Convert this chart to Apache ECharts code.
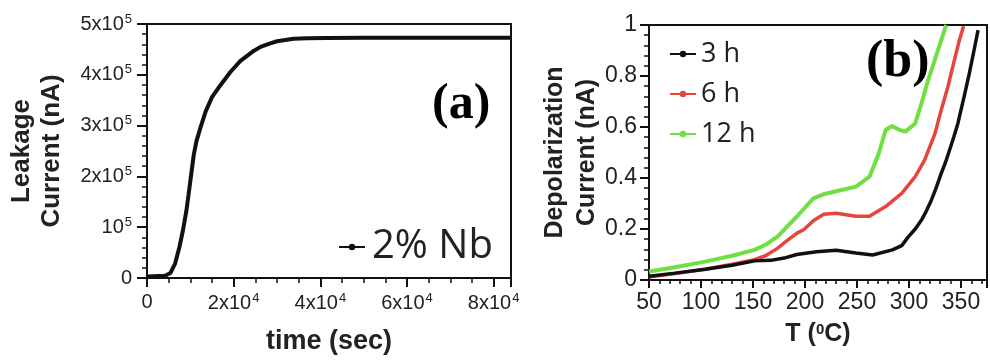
<!DOCTYPE html>
<html>
<head>
<meta charset="utf-8">
<script src="https://cdn.jsdelivr.net/npm/echarts@6/dist/echarts.min.js"></script>
<style>
html,body{margin:0;padding:0;background:#fff;}
#chart{width:990px;height:360px;}
</style>
</head>
<body>
<div id="chart"></div>
<script>
// ---- Panel (a): leakage current vs time ----
const leakTime = [0, 4200, 5400, 6500, 7500, 8300, 9100, 9600, 10200, 10800, 11400, 12300, 13500, 15000, 16900, 19200, 21500, 24600, 26200, 28100, 30000, 33800, 37000, 41500, 50000, 60000, 70000, 84000];
const leakCurrent = [3000, 4500, 9700, 29000, 61500, 94000, 133000, 165000, 204000, 243000, 269000, 295000, 327000, 356000, 379000, 405000, 427000, 447000, 455000, 461000, 466000, 471000, 472000, 472500, 473000, 473000, 473000, 473000];
const leakSeriesName = '2% Nb';
const leakXTickValues = [0, 20000, 40000, 60000, 80000];
const leakXTickText = ['0', '2x10^4', '4x10^4', '6x10^4', '8x10^4'];
const leakYTickValues = [0, 100000, 200000, 300000, 400000, 500000];
const leakYTickText = ['0', '10^5', '2x10^5', '3x10^5', '4x10^5', '5x10^5'];

// ---- Panel (b): depolarization current vs temperature ----
const temp3h = [50, 75, 104, 130, 151.5, 167, 180, 192, 211, 230, 249, 265, 284, 293, 299.5, 306, 312, 316, 321.6, 326, 331, 335, 339, 343, 347, 353, 358, 362.6, 366.4];
const curr3h = [0.015, 0.027, 0.042, 0.058, 0.075, 0.077, 0.086, 0.100, 0.111, 0.117, 0.106, 0.098, 0.118, 0.135, 0.170, 0.200, 0.235, 0.265, 0.314, 0.360, 0.418, 0.460, 0.510, 0.560, 0.614, 0.719, 0.810, 0.902, 0.980];
const temp6h = [50, 75, 104, 130, 151.5, 162, 173.5, 183, 192, 199, 208, 218, 230, 249, 262, 277.5, 293, 306, 315, 325, 331, 337.4, 343.7, 348.4, 352.5];
const curr6h = [0.012, 0.025, 0.042, 0.062, 0.080, 0.095, 0.124, 0.155, 0.183, 0.198, 0.232, 0.258, 0.262, 0.250, 0.250, 0.288, 0.340, 0.405, 0.470, 0.575, 0.667, 0.758, 0.863, 0.940, 0.995];
const temp12h = [50, 75, 104, 130, 151.5, 162, 173.5, 192, 208, 217.7, 230, 249, 262, 271, 277.5, 283.8, 290, 296.4, 306, 312, 318.4, 324.8, 331, 335.8];
const curr12h = [0.033, 0.050, 0.072, 0.095, 0.118, 0.138, 0.170, 0.248, 0.320, 0.336, 0.348, 0.366, 0.405, 0.497, 0.588, 0.604, 0.590, 0.582, 0.614, 0.693, 0.784, 0.863, 0.941, 1.0];
const depolNames = ['3 h', '6 h', '12 h'];
const depolColors = ['#111111', '#e5453e', '#6fe03f'];
const depolXTickValues = [50, 100, 150, 200, 250, 300, 350];
const depolYTickValues = [0, 0.2, 0.4, 0.6, 0.8, 1];
const depolYTickText = ['0', '0.2', '0.4', '0.6', '0.8', '1'];

function pairs(xs, ys) { return xs.map((x, i) => [x, ys[i]]); }
function findIndex(values, v) {
  let i = -1;
  values.forEach((u, j) => { if (Math.abs(u - v) < 1e-9 * Math.max(1, Math.abs(u))) i = j; });
  return i;
}
function supLabel(values, texts) {
  return function (v) {
    const i = findIndex(values, v);
    if (i < 0) return '';
    const t = texts[i];
    const k = t.indexOf('^');
    if (k < 0) return '{n|' + t + '}';
    return '{n|' + t.slice(0, k) + '}{s|' + t.slice(k + 1) + '}';
  };
}
function plainLabel(values, texts) {
  return function (v) {
    const i = findIndex(values, v);
    return i < 0 ? '' : texts[i];
  };
}

const tickFont = 'Liberation Sans';
const labColor = '#222';
function richA() {
  return {
    n: { fontSize: 20, fontFamily: tickFont, color: labColor },
    s: { fontSize: 13, fontFamily: tickFont, color: labColor, verticalAlign: 'top', padding: [0, 0, 10, 1] }
  };
}
function axLine() { return { show: true, lineStyle: { color: '#111', width: 2 } }; }
function majTick(len) { return { show: true, length: len, lineStyle: { color: '#111', width: 2 } }; }
function minTick(n, len) { return { show: true, splitNumber: n, length: len, lineStyle: { color: '#111', width: 1.5 } }; }

const chart = echarts.init(document.getElementById('chart'));

chart.setOption({
  animation: false,
  backgroundColor: '#fff',
  grid: [
    { left: 147, top: 24, width: 364, height: 258, show: true, borderColor: '#111', borderWidth: 2 },
    { left: 649, top: 25, right: -3, height: 255, show: true, borderColor: '#111', borderWidth: 2 }
  ],
  xAxis: [
    {
      gridIndex: 0, type: 'value', min: 0, max: 84000, interval: 20000,
      name: 'time (sec)', nameLocation: 'middle', nameGap: 50, nameMoveOverlap: false,
      nameTextStyle: { fontFamily: 'Liberation Sans', fontWeight: 'bold', fontSize: 27, color: labColor },
      axisLine: axLine(), axisTick: majTick(9), minorTick: minTick(4, 5),
      splitLine: { show: false },
      axisLabel: { margin: 14, formatter: supLabel(leakXTickValues, leakXTickText), rich: richA() }
    },
    {
      gridIndex: 1, type: 'value', min: 50, max: 375, interval: 50,
      name: '{n|T (}{s|0}{n|C)}', nameLocation: 'middle', nameGap: 42, nameMoveOverlap: false,
      nameTextStyle: {
        rich: {
          n: { fontFamily: 'Liberation Sans', fontWeight: 'bold', fontSize: 25, color: labColor },
          s: { fontFamily: 'Liberation Sans', fontWeight: 'bold', fontSize: 15, color: labColor, verticalAlign: 'top', padding: [0, 0, 8, 0] }
        }
      },
      axisLine: axLine(), axisTick: majTick(8), minorTick: minTick(5, 4),
      splitLine: { show: false },
      axisLabel: {
        margin: 11, fontFamily: tickFont, fontSize: 23, color: labColor,
        formatter: function (v) { return depolXTickValues.indexOf(v) >= 0 ? String(v) : ''; }
      }
    }
  ],
  yAxis: [
    {
      gridIndex: 0, type: 'value', min: 0, max: 500000, interval: 100000,
      name: 'Leakage\nCurrent (nA)', nameLocation: 'middle', nameRotate: 90, nameGap: 80, nameMoveOverlap: false,
      nameTextStyle: { fontFamily: 'Liberation Sans', fontWeight: 'bold', fontSize: 26, color: labColor, lineHeight: 30 },
      axisLine: axLine(), axisTick: majTick(10), minorTick: minTick(5, 5),
      splitLine: { show: false },
      axisLabel: { margin: 15, formatter: supLabel(leakYTickValues, leakYTickText), rich: richA() }
    },
    {
      gridIndex: 1, type: 'value', min: 0, max: 1, interval: 0.2,
      name: 'Depolarization\nCurrent (nA)', nameLocation: 'middle', nameRotate: 90, nameGap: 46, nameMoveOverlap: false,
      nameTextStyle: { fontFamily: 'Liberation Sans', fontWeight: 'bold', fontSize: 25, color: labColor, lineHeight: 32 },
      axisLine: axLine(), axisTick: majTick(9), minorTick: minTick(5, 5),
      splitLine: { show: false },
      axisLabel: { margin: 12, fontFamily: tickFont, fontSize: 23, color: labColor, formatter: plainLabel(depolYTickValues, depolYTickText) }
    }
  ],
  legend: [
    {
      data: [leakSeriesName], left: 333, top: 222, orient: 'horizontal',
      itemWidth: 26, itemHeight: 8, itemGap: 10,
      textStyle: { fontFamily: 'Open Sans', fontSize: 40, color: '#222', padding: [0, 0, 0, 2] }
    },
    {
      data: depolNames, left: 664, top: 34, orient: 'vertical',
      itemWidth: 26, itemHeight: 8, itemGap: 10,
      textStyle: { fontFamily: 'Open Sans', fontSize: 27, color: '#222', lineHeight: 30 }
    }
  ],
  graphic: [
    { type: 'text', left: 432, top: 80, style: { text: '(a)', font: 'bold 50px "Liberation Serif"', fill: '#000' } },
    { type: 'text', left: 866, top: 37, style: { text: '(b)', font: 'bold 52px "Liberation Serif"', fill: '#000' } }
  ],
  series: [
    {
      name: leakSeriesName, type: 'line', xAxisIndex: 0, yAxisIndex: 0,
      data: pairs(leakTime, leakCurrent), showSymbol: false, symbol: 'circle', symbolSize: 5,
      lineStyle: { color: '#111', width: 4 }, itemStyle: { color: '#111' }, z: 3
    },
    {
      name: depolNames[2], type: 'line', xAxisIndex: 1, yAxisIndex: 1, clip: true,
      data: pairs(temp12h, curr12h), showSymbol: false, symbol: 'circle', symbolSize: 6,
      lineStyle: { color: depolColors[2], width: 4 }, itemStyle: { color: depolColors[2] }, z: 2
    },
    {
      name: depolNames[1], type: 'line', xAxisIndex: 1, yAxisIndex: 1, clip: true,
      data: pairs(temp6h, curr6h), showSymbol: false, symbol: 'circle', symbolSize: 6,
      lineStyle: { color: depolColors[1], width: 3.5 }, itemStyle: { color: depolColors[1] }, z: 3
    },
    {
      name: depolNames[0], type: 'line', xAxisIndex: 1, yAxisIndex: 1, clip: true,
      data: pairs(temp3h, curr3h), showSymbol: false, symbol: 'circle', symbolSize: 6,
      lineStyle: { color: depolColors[0], width: 3.5 }, itemStyle: { color: depolColors[0] }, z: 4
    }
  ]
});
</script>
</body>
</html>
